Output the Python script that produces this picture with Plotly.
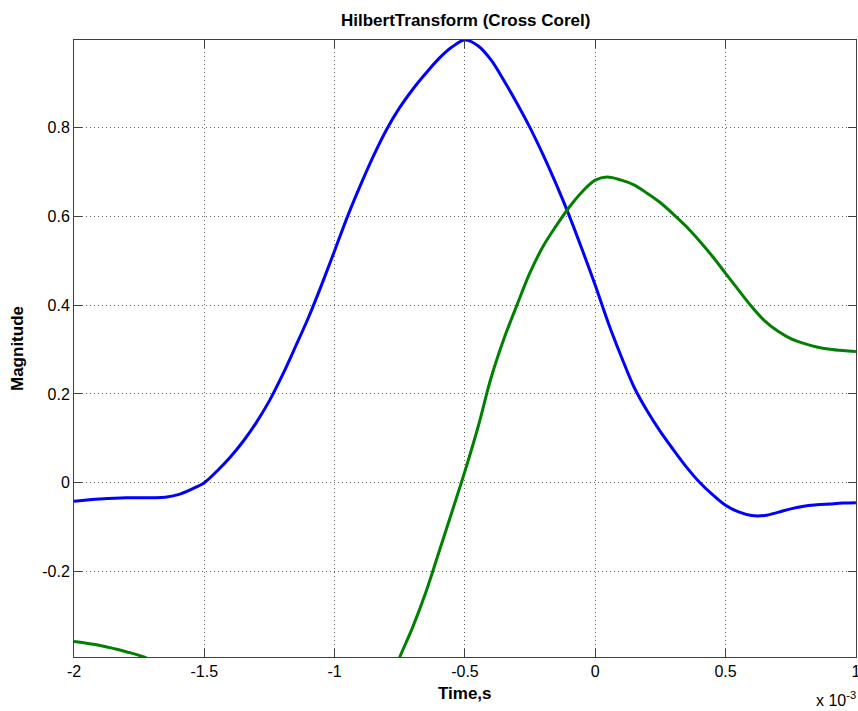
import plotly.graph_objects as go

# Time in units of 1e-3 s
blue_x = [-2.0, -1.9, -1.8, -1.7, -1.65, -1.6, -1.55, -1.5, -1.45, -1.4, -1.35, -1.3, -1.25, -1.2,
          -1.15, -1.1, -1.05, -1.0, -0.95, -0.9, -0.85, -0.8, -0.75, -0.7, -0.65, -0.6, -0.55,
          -0.5, -0.45, -0.4, -0.35, -0.3, -0.25, -0.2, -0.15, -0.1, -0.05, 0.0, 0.05, 0.1, 0.15,
          0.2, 0.25, 0.3, 0.35, 0.4, 0.45, 0.5, 0.55, 0.6, 0.65, 0.7, 0.75, 0.8, 0.85, 0.9,
          0.95, 1.0]
blue_y = [-0.042, -0.037, -0.034, -0.034, -0.033, -0.027, -0.015, 0.0, 0.027, 0.058, 0.094, 0.136,
          0.185, 0.243, 0.307, 0.373, 0.446, 0.523, 0.601, 0.672, 0.738, 0.797, 0.846, 0.887,
          0.923, 0.956, 0.982, 0.998, 0.985, 0.953, 0.906, 0.855, 0.8, 0.739, 0.673, 0.602,
          0.525, 0.445, 0.36, 0.284, 0.214, 0.161, 0.115, 0.074, 0.035, 0.001, -0.027, -0.051,
          -0.066, -0.074, -0.074, -0.067, -0.059, -0.053, -0.05, -0.048, -0.046, -0.045]

green_x = [-2.0, -1.9, -1.8, -1.732, -1.6, -1.4, -1.2, -1.0, -0.9, -0.8, -0.75, -0.7, -0.65, -0.6,
           -0.55, -0.5, -0.45, -0.4, -0.35, -0.3, -0.25, -0.2, -0.15, -0.1, -0.05, 0.0, 0.045,
           0.1, 0.15, 0.2, 0.25, 0.3, 0.35, 0.4, 0.45, 0.5, 0.55, 0.6, 0.65, 0.7, 0.75, 0.8,
           0.85, 0.9, 0.95, 1.0]
green_y = [-0.358, -0.367, -0.381, -0.393, -0.43, -0.5, -0.6, -0.72, -0.6, -0.465, -0.393, -0.325,
           -0.247, -0.157, -0.066, 0.026, 0.125, 0.236, 0.325, 0.401, 0.474, 0.533, 0.579,
           0.621, 0.656, 0.682, 0.689, 0.682, 0.671, 0.652, 0.631, 0.605, 0.577, 0.545, 0.51,
           0.472, 0.434, 0.397, 0.365, 0.342, 0.325, 0.314, 0.306, 0.301, 0.298, 0.296]

x_ticks = [-2, -1.5, -1, -0.5, 0, 0.5, 1]
x_tick_labels = ["-2", "-1.5", "-1", "-0.5", "0", "0.5", "1"]
y_ticks = [-0.2, 0, 0.2, 0.4, 0.6, 0.8]
y_tick_labels = ["-0.2", "0", "0.2", "0.4", "0.6", "0.8"]

FONT = "Liberation Sans, Arial, sans-serif"

fig = go.Figure()
fig.add_trace(go.Scatter(x=blue_x, y=blue_y, mode="lines",
                         line=dict(color="#0000ff", width=3, shape="spline", smoothing=1.0),
                         showlegend=False))
fig.add_trace(go.Scatter(x=green_x, y=green_y, mode="lines",
                         line=dict(color="#008000", width=3, shape="spline", smoothing=1.0),
                         showlegend=False))

axis_common = dict(showline=True, linecolor="#404040", linewidth=1, mirror="ticks",
                   ticks="inside", ticklen=8, tickcolor="#404040",
                   showgrid=True, gridcolor="#666666", griddash="1px,3px", gridwidth=1,
                   zeroline=False, ticklabeloverflow="allow", automargin=False,
                   tickfont=dict(family=FONT, size=16, color="#000"))

fig.update_xaxes(range=[-2, 1.0004], tickvals=x_ticks, ticktext=x_tick_labels, **axis_common)
fig.update_yaxes(range=[-0.393, 0.998], tickvals=y_ticks, ticktext=y_tick_labels, **axis_common)

fig.update_layout(
    width=858, height=711,
    margin=dict(l=74, r=2, t=40, b=54),
    plot_bgcolor="white", paper_bgcolor="white",
    font=dict(family=FONT, color="#000"),
    annotations=[
        dict(text="<b>HilbertTransform (Cross Corel)</b>", x=0.5, y=1, xref="paper", yref="paper",
             xanchor="center", yanchor="bottom", yshift=8, showarrow=False,
             font=dict(family=FONT, size=17, color="#000")),
        dict(text="<b>Time,s</b>", x=0.5, y=0, xref="paper", yref="paper",
             xanchor="center", yanchor="top", yshift=-25, showarrow=False,
             font=dict(family=FONT, size=17, color="#000")),
        dict(text="<b>Magnitude</b>", x=0, y=0.5, xref="paper", yref="paper",
             xanchor="right", yanchor="middle", xshift=-45, textangle=-90, showarrow=False,
             font=dict(family=FONT, size=17, color="#000")),
        dict(text="x 10<sup>-3</sup>", x=1, y=0, xref="paper", yref="paper",
             xanchor="right", yanchor="top", xshift=2, yshift=-30, showarrow=False,
             font=dict(family=FONT, size=16, color="#000")),
    ],
)

fig.write_html("out.html")
